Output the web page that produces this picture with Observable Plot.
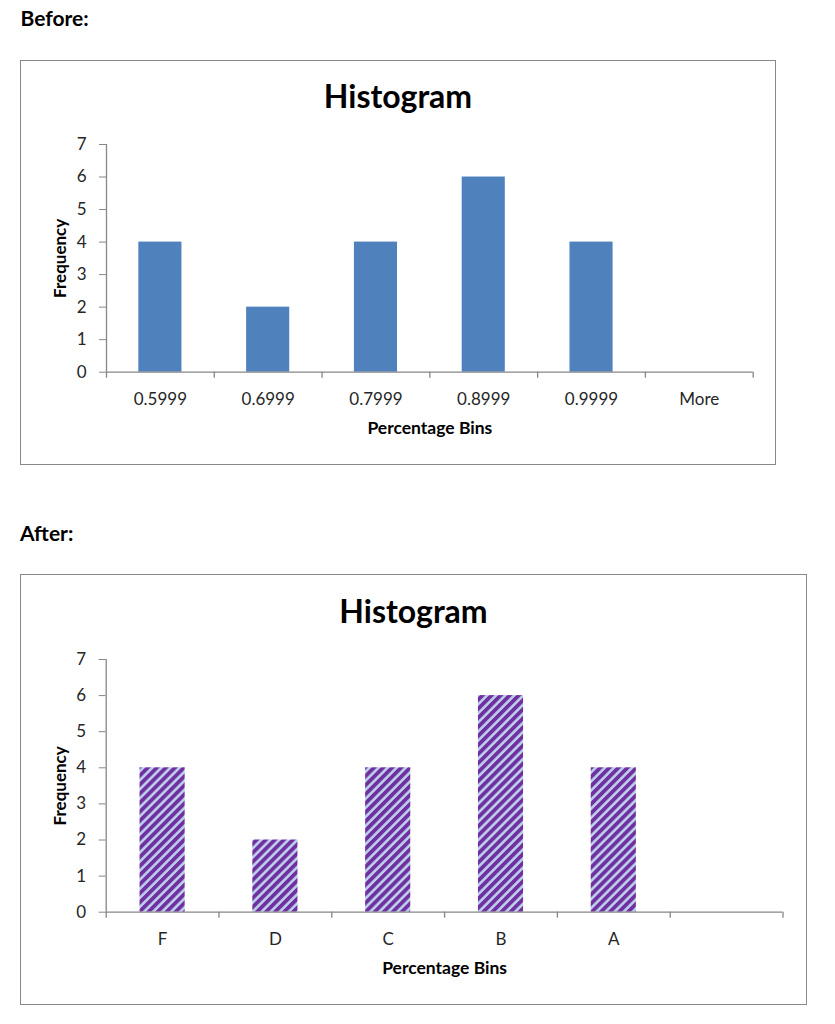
<!DOCTYPE html>
<html><head><meta charset="utf-8">
<script src="https://cdn.jsdelivr.net/npm/d3@7"></script>
<script src="https://cdn.jsdelivr.net/npm/@observablehq/plot@0.6"></script>
<style>
html,body{margin:0;padding:0;background:#fff;}
#page{position:relative;width:835px;height:1024px;font-family:Lato,sans-serif;}
.hdr{position:absolute;font-family:Lato,sans-serif;font-weight:bold;font-size:21px;line-height:1.2;color:#000;white-space:nowrap;}
.box{position:absolute;border:1px solid #888888;box-sizing:border-box;background:#fff;}
.box svg{position:absolute;left:0;top:0;}
.title{position:absolute;left:0;right:0;text-align:center;font-family:Lato,sans-serif;font-weight:bold;font-size:32px;line-height:1.2;color:#000;}
</style></head><body><div id="page"></div>
<script>
// ---- data ----
const beforeBins = ["0.5999", "0.6999", "0.7999", "0.8999", "0.9999", "More"];
const beforeFreq = [4, 2, 4, 6, 4, 0];
const afterBins = ["F", "D", "C", "B", "A", ""];
const afterFreq = [4, 2, 4, 6, 4, 0];
const yTicks = [0, 1, 2, 3, 4, 5, 6, 7];
const chartTitle = "Histogram";
const xLabel = "Percentage Bins";
const yLabel = "Frequency";
const headers = ["Before:", "After:"];

const axisColor = "#868686";
const textColor = "#262626";

function stripeDefs() {
  const ns = "http://www.w3.org/2000/svg";
  const defs = document.createElementNS(ns, "defs");
  defs.innerHTML = `<pattern id="stripes" patternUnits="userSpaceOnUse" width="6.4" height="6.4" patternTransform="rotate(45)"><rect width="6.4" height="6.4" fill="#BDD0EE"/><rect width="3.8" height="6.4" fill="#7030A0"/></pattern>`;
  return defs;
}

function makeChart({bins, freq, fill, pattern, box, m, titleTop}) {
  const W = box.w - 2, H = box.h - 2;
  const n = bins.length;
  const step = (W - m.l - m.r) / n;
  const data = bins.map((b, i) => ({bin: b, freq: freq[i]}));
  const marks = [];
  if (pattern) marks.push(() => stripeDefs());
  marks.push(
    Plot.barY(data, {x: "bin", y: "freq", fill}),
    Plot.axisY({ticks: yTicks, tickSize: 7, tickPadding: 13, stroke: axisColor, fill: textColor, fontSize: 17, tickFormat: d => String(d)}),
    Plot.axisX({tickSize: 0, tickPadding: 20.5, fill: textColor, fontSize: 17}),
    Plot.ruleY([0], {stroke: axisColor, strokeWidth: 1.3}),
    Plot.ruleX([bins[0]], {y1: 0, y2: 7, dx: -step / 2, stroke: axisColor, strokeWidth: 1.3}),
    Plot.ruleX(bins, {y1: 0, y2: 0, insetBottom: -6, dx: -step / 2, stroke: axisColor, strokeWidth: 1.3}),
    Plot.ruleX([bins[n - 1]], {y1: 0, y2: 0, insetBottom: -6, dx: step / 2, stroke: axisColor, strokeWidth: 1.3}),
    Plot.text([xLabel], {text: d => d, frameAnchor: "bottom", textAnchor: "middle", lineAnchor: "bottom", dy: 61.3, fontSize: 17.5, fontWeight: "bold", fill: "#000"}),
    Plot.text([yLabel], {text: d => d, frameAnchor: "left", textAnchor: "middle", lineAnchor: "middle", rotate: -90, dx: -45.5, fontSize: 17, fontWeight: "bold", fill: "#000", letterSpacing: "0.5px"})
  );
  const svg = Plot.plot({
    width: W, height: H,
    marginLeft: m.l, marginRight: m.r, marginTop: m.t, marginBottom: m.b,
    x: {domain: bins, paddingInner: 0.6, paddingOuter: 0.3, round: false, label: null},
    y: {domain: [0, 7], label: null},
    style: {fontFamily: "Lato, sans-serif", fontSize: "17px", background: "transparent", overflow: "visible"},
    marks
  });
  const div = document.createElement("div");
  div.className = "box";
  Object.assign(div.style, {left: box.x + "px", top: box.y + "px", width: box.w + "px", height: box.h + "px"});
  const t = document.createElement("div");
  t.className = "title";
  t.style.top = titleTop + "px";
  t.textContent = chartTitle;
  div.appendChild(svg);
  div.appendChild(t);
  return div;
}

const page = document.getElementById("page");
function header(text, x, y) {
  const h = document.createElement("div");
  h.className = "hdr";
  h.style.left = x + "px"; h.style.top = y + "px";
  h.textContent = text;
  page.appendChild(h);
}
header(headers[0], 20.5, 5.3);
page.appendChild(makeChart({
  bins: beforeBins, freq: beforeFreq, fill: "#4F81BD", pattern: false,
  box: {x: 20, y: 60, w: 756, h: 405},
  m: {l: 85, r: 22.3, t: 83, b: 92.3}, titleTop: 15.5
}));
header(headers[1], 20, 520);
page.appendChild(makeChart({
  bins: afterBins, freq: afterFreq, fill: "url(#stripes)", pattern: true,
  box: {x: 20, y: 574, w: 787, h: 431},
  m: {l: 84.7, r: 23.5, t: 84, b: 92.3}, titleTop: 16.6
}));
</script></body></html>
